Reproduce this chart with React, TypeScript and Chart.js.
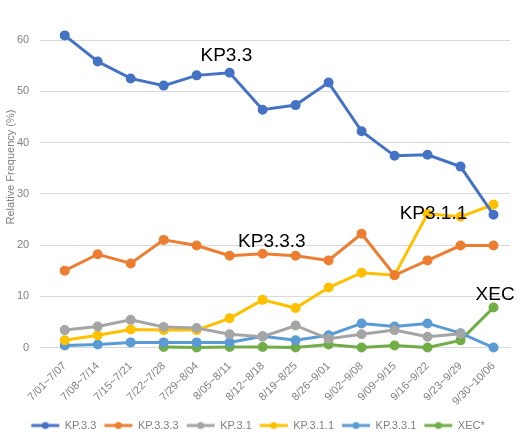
import React, { useRef, useEffect } from 'react';
import { Chart, registerables } from 'chart.js';

Chart.register(...registerables);

// week ranges on the x axis
const weeks = [
    '7/01~7/07', '7/08~7/14', '7/15~7/21', '7/22~7/28', '7/29~8/04', '8/05~8/11', '8/12~8/18',
    '8/19~8/25', '8/26~9/01', '9/02~9/08', '9/09~9/15', '9/16~9/22', '9/23~9/29', '9/30~10/06',
];

// relative frequency (%) per variant
const kp33 = [60.9, 55.8, 52.5, 51.1, 53.1, 53.6, 46.4, 47.3, 51.7, 42.2, 37.4, 37.6, 35.3, 25.9];
const kp333 = [15.0, 18.2, 16.4, 21.0, 19.9, 17.9, 18.3, 17.9, 17.0, 22.2, 14.1, 17.0, 19.9, 19.9];
const kp31 = [3.4, 4.1, 5.4, 4.0, 3.8, 2.6, 2.1, 4.3, 1.7, 2.6, 3.4, 2.1, 2.7, null];
const kp311 = [1.4, 2.4, 3.5, 3.4, 3.4, 5.7, 9.3, 7.7, 11.7, 14.6, 14.1, 26.1, 25.5, 27.9];
const kp331 = [0.4, 0.6, 1.0, 1.0, 1.0, 1.0, 2.2, 1.4, 2.4, 4.7, 4.1, 4.7, 2.8, 0.0];
const xec = [null, null, null, 0.1, 0.0, 0.1, 0.1, 0.0, 0.6, 0.0, 0.4, 0.0, 1.4, 7.8];

const yTicks = [0, 10, 20, 30, 40, 50, 60];

// labels written on the plot: [text, category index, value]
const callouts: [string, number, number][] = [
    ['KP3.3', 4.9, 57.0],
    ['KP3.3.3', 6.28, 20.7],
    ['KP3.1.1', 11.18, 26.1],
    ['XEC', 13.05, 10.2],
];

const FONT = "'Liberation Sans', Arial, sans-serif";
const GRAY = '#808080';

// legend marker: short line with a dot in the middle
const legendMarker = (color: string) => {
    const c = document.createElement('canvas');
    c.width = 30;
    c.height = 10;
    const g = c.getContext('2d')!;
    g.strokeStyle = color;
    g.lineWidth = 3;
    g.beginPath();
    g.moveTo(1, 5);
    g.lineTo(29, 5);
    g.stroke();
    g.fillStyle = color;
    g.beginPath();
    g.arc(15, 5, 3.5, 0, Math.PI * 2);
    g.fill();
    return c;
};

const calloutPlugin = {
    id: 'callouts',
    afterDatasetsDraw(chart: Chart) {
        const { ctx, scales } = chart;
        ctx.save();
        ctx.fillStyle = '#000';
        ctx.font = `19px ${FONT}`;
        ctx.textAlign = 'center';
        ctx.textBaseline = 'middle';
        callouts.forEach(([text, idx, val]) => {
            ctx.fillText(text, scales.x.getPixelForValue(idx), scales.y.getPixelForValue(val));
        });
        // y axis title, sits a bit above the middle of the plot like the original
        ctx.translate(11, 167);
        ctx.rotate(-Math.PI / 2);
        ctx.fillStyle = GRAY;
        ctx.font = `11px ${FONT}`;
        ctx.fillText('Relative Frequency (%)', 0, 0);
        ctx.restore();
    },
};

const App = () => {
    const chartRef = useRef<HTMLCanvasElement>(null);
    const chartInstanceRef = useRef<Chart | null>(null);

    useEffect(() => {
        document.body.style.margin = '0';
        const ctx = chartRef.current?.getContext('2d');
        if (!ctx) return;
        if (chartInstanceRef.current) chartInstanceRef.current.destroy();

        const series: [string, (number | null)[], string][] = [
            ['KP.3.3', kp33, '#4472C4'],
            ['KP.3.3.3', kp333, '#ED7D31'],
            ['KP.3.1', kp31, '#A5A5A5'],
            ['KP.3.1.1', kp311, '#FFC000'],
            ['KP.3.3.1', kp331, '#5B9BD5'],
            ['XEC*', xec, '#70AD47'],
        ];

        chartInstanceRef.current = new Chart(ctx, {
            type: 'line',
            data: {
                labels: weeks,
                datasets: series.map(([label, data, color]) => ({
                    label,
                    data,
                    borderColor: color,
                    backgroundColor: color,
                    borderWidth: 3,
                    pointRadius: 3.5,
                    pointHoverRadius: 4,
                    clip: false as any,
                })),
            },
            options: {
                responsive: false,
                animation: false,
                layout: { padding: { top: 40, right: 10, left: 6, bottom: 0 } },
                scales: {
                    x: {
                        offset: true,
                        grid: { display: false },
                        border: { color: '#d9d9d9' },
                        ticks: {
                            color: GRAY,
                            font: { family: FONT, size: 11 },
                            minRotation: 45,
                            maxRotation: 45,
                            autoSkip: false,
                            padding: 4,
                        },
                    },
                    y: {
                        min: 0,
                        max: 60,
                        afterBuildTicks: (axis) => {
                            axis.ticks = yTicks.map((v) => ({ value: v }));
                        },
                        grid: { color: '#d9d9d9' },
                        border: { display: false },
                        ticks: {
                            color: GRAY,
                            font: { family: FONT, size: 11 },
                            padding: 11,
                        },
                    },
                },
                plugins: {
                    legend: {
                        position: 'bottom',
                        labels: {
                            usePointStyle: true,
                            pointStyleWidth: 28,
                            color: GRAY,
                            font: { family: FONT, size: 11 },
                            padding: 8,
                            generateLabels: (chart) =>
                                chart.data.datasets.map((ds, i) => ({
                                    text: ds.label as string,
                                    pointStyle: legendMarker(ds.borderColor as string),
                                    fillStyle: ds.borderColor as string,
                                    strokeStyle: ds.borderColor as string,
                                    lineWidth: 0,
                                    fontColor: GRAY,
                                    hidden: false,
                                    datasetIndex: i,
                                })),
                        },
                    },
                    tooltip: { enabled: false },
                },
            },
            plugins: [calloutPlugin],
        });

        return () => {
            if (chartInstanceRef.current) {
                chartInstanceRef.current.destroy();
                chartInstanceRef.current = null;
            }
        };
    }, []);

    return (
        <div style={{ width: 520, height: 441, background: '#fff' }}>
            <canvas ref={chartRef} width={520} height={441}></canvas>
        </div>
    );
};

export default App;
